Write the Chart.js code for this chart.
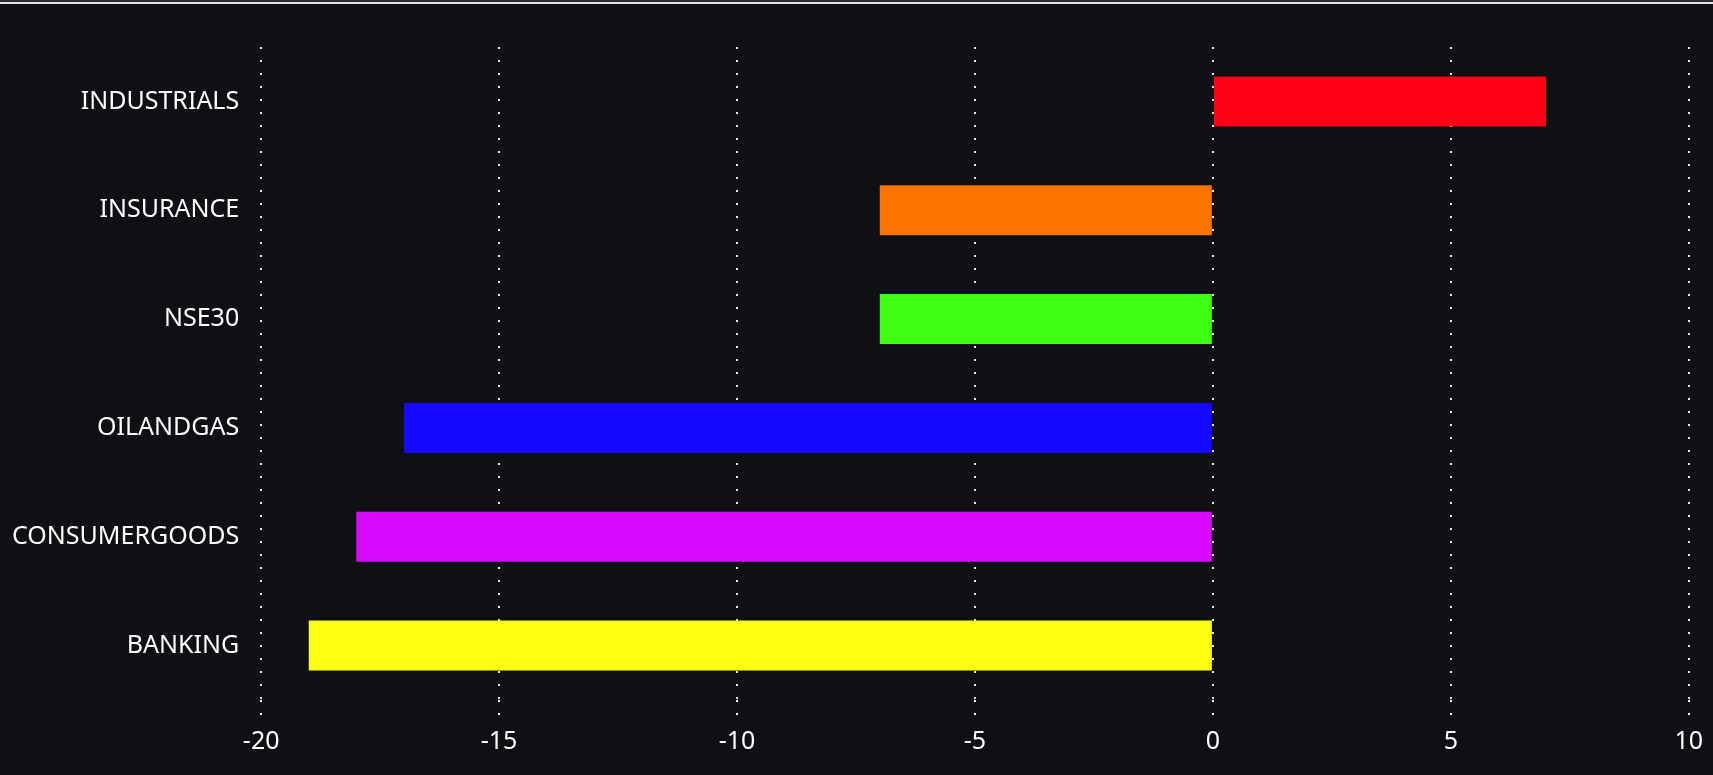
<!DOCTYPE html>
<html>
<head>
<meta charset="utf-8">
<script src="https://cdn.jsdelivr.net/npm/chart.js@4"></script>
<style>
  html, body { margin: 0; padding: 0; background: #0f1014; }
  .topline { height: 2px; background: #2b2c30; }
  .topline2 { height: 2px; background: #e6e6e6; }
  .wrap { width: 1713px; height: 771px; position: relative; }
</style>
</head>
<body>
<div class="topline"></div>
<div class="topline2"></div>
<div class="wrap"><canvas id="canvas"></canvas></div>
<script>
// sector performance
var sectors = ['INDUSTRIALS', 'INSURANCE', 'NSE30', 'OILANDGAS', 'CONSUMERGOODS', 'BANKING'];
var change = [7, -7, -7, -17, -18, -19];
var barColors = ['#ff0015', '#ff7300', '#3cff14', '#1408ff', '#d808ff', '#ffff14'];
var xMin = -20, xMax = 10, xStep = 5;

const ctx = document.getElementById('canvas');
new Chart(ctx, {
    type: 'bar',
    data: {
      labels: sectors,
      datasets: [{
        data: change,
        backgroundColor: barColors,
        borderWidth: 0,
        barPercentage: 0.46,
        categoryPercentage: 1
      }]
    },
    options: {
      indexAxis: 'y',
      responsive: true,
      maintainAspectRatio: false,
      animation: false,
      layout: {
        padding: { top: 43, bottom: 8, left: -10, right: 18 }
      },
      plugins: {
        legend: { display: false },
        tooltip: { enabled: false }
      },
      scales: {
        x: {
          min: xMin,
          max: xMax,
          ticks: {
            stepSize: xStep,
            color: '#ffffff',
            padding: 10,
            font: { family: 'Noto Sans', size: 25 }
          },
          grid: {
            color: 'rgba(255,255,255,0.9)',
            lineWidth: 2,
            drawTicks: true,
            tickLength: 17,
            tickColor: '#ffffff',
            tickWidth: 2,
            tickBorderDash: [2, 11],
            tickBorderDashOffset: 0
          },
          border: { display: false, dash: [2, 11] }
        },
        y: {
          ticks: {
            color: '#ffffff',
            padding: 22,
            font: { family: 'Noto Sans', size: 25 }
          },
          grid: { display: false, drawTicks: false },
          border: { display: false }
        }
      }
    }
});
</script>
</body>
</html>
